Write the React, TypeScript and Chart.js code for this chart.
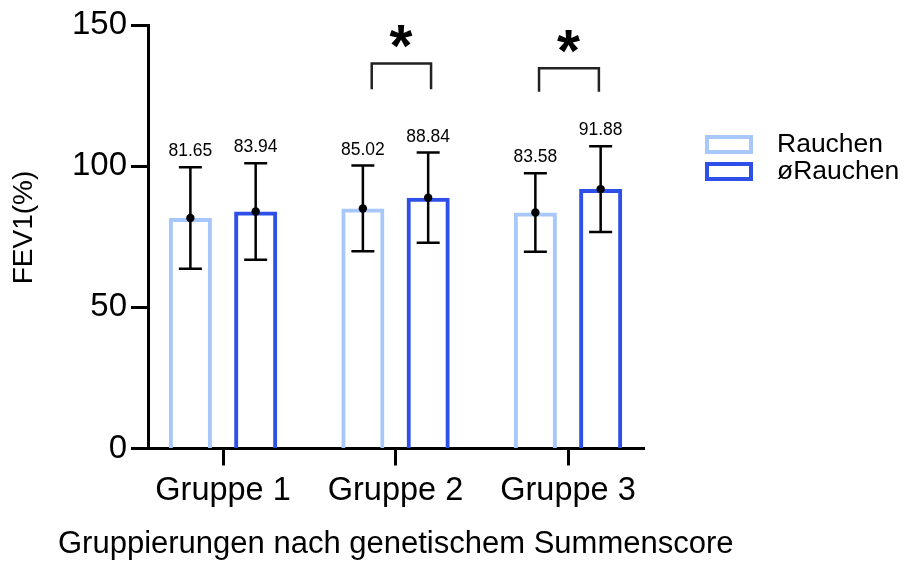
import React, { useEffect, useRef } from "react";
import { Chart, registerables } from "chart.js";

Chart.register(...registerables);

// ---- data ----
const categories = ["Gruppe 1", "Gruppe 2", "Gruppe 3"];
const seriesNames = ["Rauchen", "øRauchen"];
const rauchenMean = [81.65, 85.02, 83.58];
const rauchenSD = [18.0, 15.2, 13.9];
const nichtRauchenMean = [83.94, 88.84, 91.88];
const nichtRauchenSD = [17.1, 16.0, 15.2];
const yTicks = [0, 50, 100, 150];
const xTitle = "Gruppierungen nach genetischem Summenscore";
const yTitle = "FEV1(%)";
// significance brackets (x in category units, y in FEV1 units)
const bracketFrom = [0.862, 1.832];
const bracketTo = [1.206, 2.179];
const bracketTop = [136.4, 134.7];
const bracketBottom = [127.2, 126.4];
const starX = [1.032, 2.003];
const starY = [145.8, 144.3];
const starLabel = ["*", "*"];

const FONT = '"Liberation Sans", Arial, Helvetica, sans-serif';
const LIGHT = "#a8c8fb";
const DARK = "#2e50e8";

const sds = [rauchenSD, nichtRauchenSD];
const means = [rauchenMean, nichtRauchenMean];

const overlayPlugin = {
  id: "overlay",
  afterDatasetsDraw(chart: any) {
    const ctx = chart.ctx;
    const xs = chart.scales.x;
    const ys = chart.scales.y;
    ctx.save();
    // error bars + value labels
    chart.data.datasets.forEach((ds: any, di: number) => {
      const meta = chart.getDatasetMeta(di);
      meta.data.forEach((bar: any, i: number) => {
        const m = means[di][i];
        const sd = sds[di][i];
        const x = bar.x;
        const yT = ys.getPixelForValue(m + sd);
        const yB = ys.getPixelForValue(m - sd);
        const yM = ys.getPixelForValue(m);
        ctx.strokeStyle = "#000";
        ctx.lineWidth = 2.5;
        ctx.beginPath();
        ctx.moveTo(x, yT);
        ctx.lineTo(x, yB);
        ctx.moveTo(x - 11.5, yT);
        ctx.lineTo(x + 11.5, yT);
        ctx.moveTo(x - 11.5, yB);
        ctx.lineTo(x + 11.5, yB);
        ctx.stroke();
        ctx.fillStyle = "#000";
        ctx.beginPath();
        ctx.arc(x, yM, 4.2, 0, Math.PI * 2);
        ctx.fill();
        ctx.font = `17.5px ${FONT}`;
        ctx.textAlign = "center";
        ctx.textBaseline = "alphabetic";
        ctx.fillText(m.toFixed(2), x, yT - 11);
      });
    });
    // brackets
    ctx.strokeStyle = "#222";
    ctx.lineWidth = 2.5;
    bracketFrom.forEach((f, i) => {
      const x1 = xs.getPixelForValue(f);
      const x2 = xs.getPixelForValue(bracketTo[i]);
      const yt = ys.getPixelForValue(bracketTop[i]);
      const yb = ys.getPixelForValue(bracketBottom[i]);
      ctx.beginPath();
      ctx.moveTo(x1, yb);
      ctx.lineTo(x1, yt);
      ctx.lineTo(x2, yt);
      ctx.lineTo(x2, yb);
      ctx.stroke();
    });
    // stars
    ctx.fillStyle = "#000";
    ctx.textAlign = "left";
    ctx.textBaseline = "alphabetic";
    starX.forEach((sx, i) => {
      ctx.font = `bold 100px ${FONT}`;
      const m100 = ctx.measureText(starLabel[i]);
      const w100 = m100.actualBoundingBoxRight + m100.actualBoundingBoxLeft;
      const size = (100 * 23) / w100;
      ctx.font = `bold ${size}px ${FONT}`;
      const mm = ctx.measureText(starLabel[i]);
      const cx = xs.getPixelForValue(sx);
      const cy = ys.getPixelForValue(starY[i]);
      const bx = cx - (mm.actualBoundingBoxRight - mm.actualBoundingBoxLeft) / 2;
      const by = cy + (mm.actualBoundingBoxAscent - mm.actualBoundingBoxDescent) / 2;
      ctx.fillText(starLabel[i], bx, by);
    });
    // legend
    const colors = [LIGHT, DARK];
    seriesNames.forEach((name, i) => {
      const top = 135 + i * 27;
      ctx.strokeStyle = colors[i];
      ctx.lineWidth = 4;
      ctx.strokeRect(707, top + 2, 44, 15);
      ctx.fillStyle = "#000";
      ctx.font = `26.5px ${FONT}`;
      ctx.textAlign = "left";
      ctx.textBaseline = "middle";
      ctx.fillText(name, 777, top + 10);
    });
    // axis titles
    ctx.fillStyle = "#000";
    ctx.font = `31px ${FONT}`;
    ctx.textAlign = "left";
    ctx.textBaseline = "alphabetic";
    ctx.fillText(xTitle, 58, 553);
    ctx.save();
    ctx.translate(24, 227.5);
    ctx.rotate(-Math.PI / 2);
    ctx.font = `28px ${FONT}`;
    ctx.textAlign = "center";
    ctx.textBaseline = "middle";
    ctx.fillText(yTitle, 0, 0);
    ctx.restore();
    ctx.restore();
  },
};

export default function App() {
  const ref = useRef<HTMLCanvasElement | null>(null);
  useEffect(() => {
    document.body.style.margin = "0";
    const canvas = ref.current!;
    const chart = new Chart(canvas, {
      type: "bar",
      data: {
        datasets: [
          {
            label: seriesNames[0],
            data: rauchenMean.map((v, i) => ({ x: i, y: v })),
            backgroundColor: "rgba(255,255,255,0)",
            borderColor: LIGHT,
            borderWidth: 4,
          },
          {
            label: seriesNames[1],
            data: nichtRauchenMean.map((v, i) => ({ x: i, y: v })),
            backgroundColor: "rgba(255,255,255,0)",
            borderColor: DARK,
            borderWidth: 4,
          },
        ],
      },
      options: {
        animation: false,
        responsive: false,
        devicePixelRatio: 1,
        categoryPercentage: 0.757,
        barPercentage: 0.66,
        layout: { padding: { top: 25, right: 262.4, bottom: 0, left: 0 } },
        plugins: {
          legend: { display: false },
          tooltip: { enabled: false },
        },
        scales: {
          x: {
            type: "linear",
            offset: false,
            min: -0.435,
            max: 2.444,
            afterBuildTicks: (scale: any) => {
              scale.ticks = categories.map((_, i) => ({ value: i }));
            },
            afterFit: (scale: any) => {
              scale.height = 114.5;
            },
            grid: {
              display: true,
              offset: false,
              drawOnChartArea: false,
              drawTicks: true,
              tickLength: 17,
              tickWidth: 3,
              color: "#000",
            },
            border: { display: true, width: 3, color: "#000" },
            ticks: {
              color: "#000",
              font: { family: FONT, size: 32.5 },
              padding: 6,
              maxRotation: 0,
              autoSkip: false,
              callback: (v: any) => categories[v as number],
            },
          },
          y: {
            min: 0,
            max: 150,
            afterBuildTicks: (scale: any) => {
              scale.ticks = yTicks.map((v) => ({ value: v }));
            },
            afterFit: (scale: any) => {
              scale.width = 148;
            },
            grid: {
              display: true,
              drawOnChartArea: false,
              drawTicks: true,
              tickLength: 17,
              tickWidth: 3,
              color: "#000",
            },
            border: { display: true, width: 3, color: "#000" },
            ticks: {
              color: "#000",
              font: { family: FONT, size: 33 },
              padding: 4,
            },
          },
        },
      },
      plugins: [overlayPlugin],
    } as any);
    return () => chart.destroy();
  }, []);
  return (
    <div style={{ width: 907, height: 563, background: "#fff" }}>
      <canvas ref={ref} width={907} height={563} />
    </div>
  );
}
